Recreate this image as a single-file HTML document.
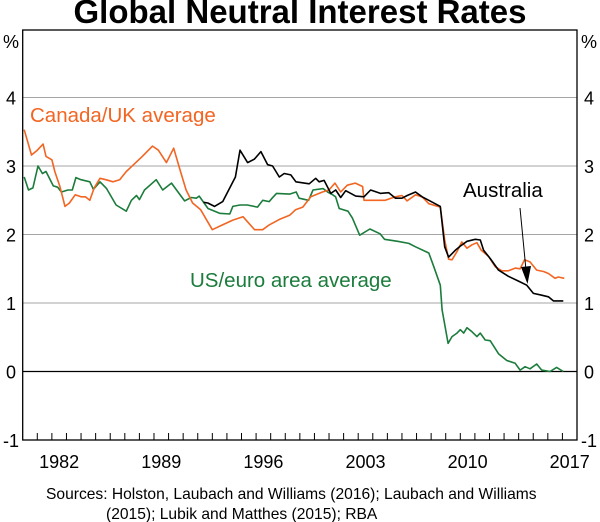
<!DOCTYPE html>
<html><head><meta charset="utf-8"><style>
body{margin:0;background:#fff;}
svg{display:block;font-family:"Liberation Sans",Arial,sans-serif;}
</style></head><body>
<svg id="chart" width="600" height="522" viewBox="0 0 600 522" xmlns="http://www.w3.org/2000/svg">
<text x="300" y="23" text-anchor="middle" font-size="33" font-weight="bold">Global Neutral Interest Rates</text>
<g id="grid"></g>
<g id="series"></g>
<rect x="22.7" y="30" width="554.3" height="410" fill="none" stroke="#000" stroke-width="1.3"/>
<g id="axes"></g>
<text x="11" y="48" text-anchor="middle" font-size="18">%</text>
<text x="589" y="48" text-anchor="middle" font-size="18">%</text>
<text x="30" y="122" font-size="20.5" fill="#f26522">Canada/UK average</text>
<text x="190" y="287" font-size="20.5" fill="#1b7c3c">US/euro area average</text>
<text x="463" y="197" font-size="20.5" fill="#000">Australia</text>
<line x1="520" y1="208" x2="526" y2="270" stroke="#000" stroke-width="1"/>
<polygon points="521,267 531,266 527.5,284" fill="#000"/>
<text x="46" y="499" font-size="15.6">Sources: Holston, Laubach and Williams (2016); Laubach and Williams</text>
<text x="106" y="519" font-size="15.6">(2015); Lubik and Matthes (2015); RBA</text>
</svg>
<script>
const yTicks=[-1,0,1,2,3,4];
const xLabels=[1982,1989,1996,2003,2010,2017];
const ukYears=[1980.1,1980.6,1981.0,1981.4,1981.6,1982.0,1982.2,1982.55,1982.9,1983.2,1983.6,1984.0,1984.3,1984.6,1984.9,1985.3,1985.7,1986.2,1986.65,1987.1,1987.7,1988.2,1988.9,1989.3,1989.85,1990.35,1990.75,1991.2,1991.65,1992.2,1993.0,1993.7,1994.4,1995.1,1995.9,1996.45,1996.9,1997.6,1998.3,1998.7,1999.2,1999.75,2000.55,2001.0,2001.4,2001.8,2002.25,2002.8,2003.3,2003.4,2004.2,2004.85,2005.55,2006.0,2006.35,2006.93,2007.38,2007.84,2008.63,2008.93,2009.2,2009.43,2009.77,2010.1,2010.46,2010.8,2011.14,2011.44,2011.94,2012.39,2012.85,2013.3,2013.76,2014.1,2014.4,2014.78,2015.24,2015.7,2016.04,2016.5,2016.72,2017.13];
const ukValues=[3.53,3.16,3.23,3.32,3.14,3.09,2.92,2.70,2.41,2.46,2.58,2.55,2.55,2.50,2.68,2.82,2.80,2.77,2.80,2.92,3.04,3.14,3.29,3.23,3.05,3.26,2.97,2.65,2.46,2.36,2.07,2.14,2.21,2.26,2.07,2.07,2.14,2.22,2.28,2.36,2.40,2.55,2.62,2.65,2.75,2.62,2.72,2.75,2.70,2.50,2.50,2.50,2.55,2.57,2.49,2.58,2.55,2.45,2.40,1.92,1.64,1.63,1.75,1.89,1.80,1.85,1.88,1.77,1.68,1.53,1.47,1.47,1.51,1.50,1.63,1.60,1.48,1.46,1.43,1.36,1.38,1.36];
const usYears=[1980.1,1980.4,1980.7,1981.05,1981.35,1981.6,1982.1,1982.4,1982.65,1983.1,1983.4,1983.65,1984.0,1984.6,1984.85,1985.3,1985.75,1986.4,1987.1,1987.45,1987.8,1988.0,1988.35,1989.15,1989.6,1990.2,1990.65,1991.1,1991.55,1991.9,1992.1,1992.7,1993.5,1994.2,1994.4,1994.9,1995.4,1996.1,1996.45,1996.9,1997.1,1997.4,1998.3,1998.75,1998.95,1999.6,1999.9,2000.6,2000.9,2001.25,2001.45,2001.7,2002.3,2002.6,2003.1,2003.8,2004.5,2004.8,2005.7,2006.47,2006.93,2007.84,2008.18,2008.63,2008.75,2009.16,2009.43,2009.77,2010.0,2010.23,2010.46,2010.8,2011.14,2011.37,2011.71,2012.05,2012.62,2013.19,2013.76,2014.1,2014.44,2014.78,2015.24,2015.58,2016.15,2016.6,2017.06];
const usValues=[2.84,2.65,2.68,3.0,2.89,2.92,2.71,2.69,2.62,2.65,2.65,2.83,2.80,2.77,2.66,2.77,2.67,2.43,2.34,2.50,2.57,2.51,2.65,2.80,2.65,2.75,2.62,2.49,2.54,2.53,2.56,2.38,2.31,2.30,2.41,2.43,2.43,2.40,2.50,2.48,2.53,2.60,2.59,2.62,2.53,2.50,2.65,2.67,2.62,2.58,2.55,2.38,2.34,2.24,1.99,2.08,2.01,1.93,1.90,1.87,1.82,1.73,1.53,1.26,0.90,0.41,0.51,0.56,0.61,0.56,0.64,0.58,0.51,0.56,0.46,0.45,0.26,0.16,0.12,0.02,0.07,0.04,0.11,0.02,0.0,0.06,0.0];
const auYears=[1992.4,1992.69,1993.15,1993.71,1994.17,1994.58,1994.9,1995.42,1995.88,1996.33,1996.79,1997.13,1997.59,1997.93,1998.38,1998.73,1999.64,2000.09,2000.32,2000.66,2001.12,2001.46,2001.8,2002.14,2002.83,2003.4,2003.85,2004.53,2005.1,2005.56,2006.0,2006.36,2006.93,2007.38,2007.84,2008.63,2008.93,2009.2,2009.66,2010.0,2010.46,2011.03,2011.37,2011.6,2012.05,2012.62,2013.3,2013.99,2014.56,2015.01,2015.47,2016.04,2016.38,2017.06];
const auValues=[2.47,2.46,2.41,2.48,2.67,2.84,3.23,3.05,3.10,3.21,3.02,3.0,2.84,2.89,2.87,2.77,2.74,2.82,2.77,2.79,2.60,2.65,2.54,2.64,2.56,2.55,2.65,2.60,2.61,2.53,2.53,2.57,2.62,2.55,2.50,2.41,1.82,1.67,1.77,1.83,1.90,1.93,1.92,1.77,1.65,1.48,1.39,1.32,1.26,1.14,1.12,1.09,1.03,1.03];

const NS='http://www.w3.org/2000/svg';
const X0=22.7,X1=577,Y0=1980,Y1=2018;
function xs(yr){return X0+(yr-Y0)*(X1-X0)/(Y1-Y0);}
function ys(v){return 371.5-68.5*v;}
function mk(tag,attrs,parent){const e=document.createElementNS(NS,tag);for(const k in attrs)e.setAttribute(k,attrs[k]);parent.appendChild(e);return e;}
const grid=document.getElementById('grid'),axes=document.getElementById('axes'),ser=document.getElementById('series');
yTicks.forEach(v=>{
  if(v>-1){const l=mk('line',{x1:X0,x2:X1,y1:ys(v),y2:ys(v),stroke:v===0?'#000':'#a6a6a6','stroke-width':v===0?1.3:1},grid);
  
  }
  const t1=mk('text',{x:11,y:ys(v)+7,'text-anchor':'middle','font-size':18},axes);t1.textContent=v;
  
  
  const t2=mk('text',{x:589,y:ys(v)+7,'text-anchor':'middle','font-size':18},axes);t2.textContent=v;
  
  
});
for(let yr=Y0+1;yr<Y1;yr++){
  const l=mk('line',{x1:xs(yr),x2:xs(yr),y1:440,y2:433,stroke:'#000','stroke-width':1},axes);
  
  
}
xLabels.forEach(yr=>{
  const t=mk('text',{x:xs(yr+0.5),y:468,'text-anchor':'middle','font-size':18},axes);t.textContent=yr;
  
  
});
function line(xa,va,color,name){
  const d=xa.map((x,i)=>(i?'L':'M')+xs(x).toFixed(1)+','+ys(va[i]).toFixed(1)).join('');
  const p=mk('path',{d:d,fill:'none',stroke:color,'stroke-width':1.6,'stroke-linejoin':'round'},ser);
  
  
}
line(usYears,usValues,'#1b7c3c','us-euro-line');
line(ukYears,ukValues,'#f26522','canada-uk-line');
line(auYears,auValues,'#000','australia-line');
</script>
</body></html>
